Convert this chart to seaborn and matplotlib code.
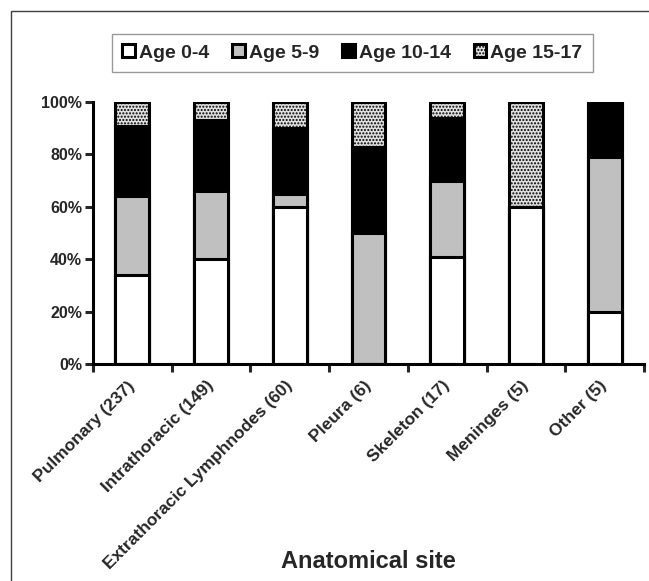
import numpy as np
import pandas as pd
import matplotlib.pyplot as plt
import matplotlib.transforms as mtransforms
import seaborn as sns
from matplotlib.patches import Patch, Rectangle
from matplotlib.ticker import PercentFormatter

sns.set_style("white")
plt.rcParams['font.family'] = ['Liberation Sans', 'DejaVu Sans']
plt.rcParams['font.weight'] = 'bold'
plt.rcParams['hatch.linewidth'] = 1.0

# data (percent per site)
sites = ['Pulmonary (237)', 'Intrathoracic (149)', 'Extrathoracic Lymphnodes (60)',
         'Pleura (6)', 'Skeleton (17)', 'Meninges (5)', 'Other (5)']
age_0_4 = [34, 40, 60, 0, 41, 60, 20]
age_5_9 = [30, 26, 5, 50, 29, 0, 59]
age_10_14 = [27, 27, 25, 33, 24, 0, 21]
age_15_17 = [9, 7, 10, 17, 6, 40, 0]
groups = ['Age 0-4', 'Age 5-9', 'Age 10-14', 'Age 15-17']

df = pd.DataFrame({'site': sites, 'Age 0-4': age_0_4, 'Age 5-9': age_5_9,
                   'Age 10-14': age_10_14, 'Age 15-17': age_15_17})
cum = df[groups].cumsum(axis=1) / 100.0
cum['site'] = df['site']

styles = {
    'Age 0-4': dict(color='white', hatch=None),
    'Age 5-9': dict(color='#c0c0c0', hatch=None),
    'Age 10-14': dict(color='black', hatch=None),
    'Age 15-17': dict(color='#e0e0e0', hatch='.....'),
}

fig = plt.figure(figsize=(6.49, 5.81), dpi=100)
ax = fig.add_axes([0.1433, 0.3735, 0.8490, 0.4509])

# stacked bars: draw cumulative totals from top layer down
for g in reversed(groups):
    st = styles[g]
    sns.barplot(data=cum, x='site', y=g, order=sites, color=st['color'], saturation=1,
                edgecolor='black', linewidth=2.2, width=0.43, errorbar=None,
                hatch=st['hatch'], ax=ax)

ax.set_xlim(-0.5, 6.5)
ax.set_ylim(0, 1.0)
ax.yaxis.set_major_formatter(PercentFormatter(1.0, decimals=0))
ax.set_yticks([0, 0.2, 0.4, 0.6, 0.8, 1.0])

# ticks between categories, labels at centers
ax.set_xticks(np.arange(-0.5, 7, 1))
ax.set_xticklabels([])
ax.set_xticks(range(7), minor=True)
ax.set_xticklabels(sites, minor=True, rotation=45, ha='right', va='center',
                   rotation_mode='anchor', fontsize=12.5, fontweight='bold')
shift = mtransforms.ScaledTranslation(-7 / 100, 0, fig.dpi_scale_trans)
for lab in ax.get_xticklabels(minor=True):
    lab.set_transform(lab.get_transform() + shift)
ax.tick_params(axis='x', which='major', direction='out', length=6, width=2.2, bottom=True)
ax.tick_params(axis='x', which='minor', length=0, pad=14)
ax.tick_params(axis='y', direction='out', length=6, width=2.2, left=True, labelsize=11.5, pad=2)

for s in ['top', 'right']:
    ax.spines[s].set_visible(False)
for s in ['left', 'bottom']:
    ax.spines[s].set_linewidth(2.2)
    ax.spines[s].set_color('black')

ax.set_ylabel('')
ax.set_xlabel('Anatomical site', fontsize=17, fontweight='bold')
ax.xaxis.set_label_coords(0.5, -0.71)

handles = [Patch(facecolor=styles[g]['color'], edgecolor='black', linewidth=2.2,
                 hatch=styles[g]['hatch'], label=g) for g in groups]
leg = fig.legend(handles=handles, ncol=4, loc='center',
                 bbox_to_anchor=(0.157, 0.873, 0.772, 0.072), mode='expand',
                 frameon=True, fancybox=False, edgecolor='#808080',
                 handlelength=0.65, handleheight=0.65, handletextpad=0.2,
                 borderpad=0.55, columnspacing=1.5,
                 prop={'size': 14, 'weight': 'bold'})
leg.get_frame().set_linewidth(1.0)

# outer frame of the original figure
fig.patches.append(Rectangle((11 / 649, -0.1), 1.2, 1 - 11 / 581 + 0.1,
                             transform=fig.transFigure, fill=False,
                             edgecolor='#404040', linewidth=1.0))

fig.savefig('out.png', dpi=100)
